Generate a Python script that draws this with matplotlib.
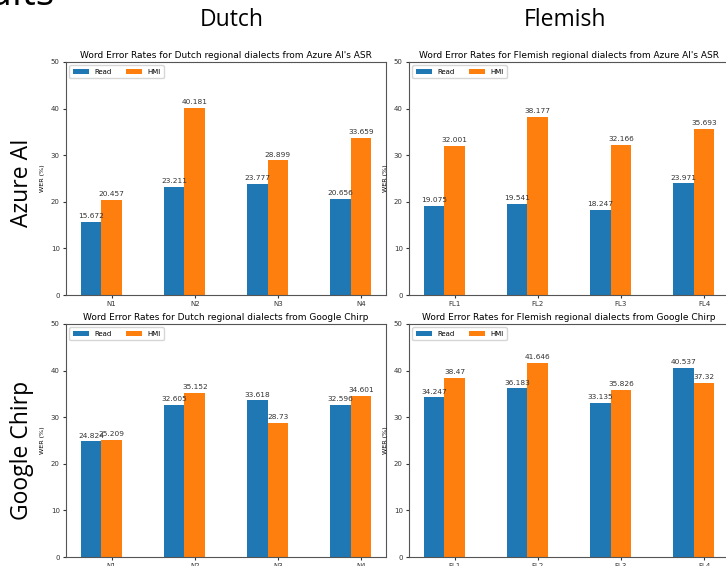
import numpy as np
import matplotlib.pyplot as plt

dutch = ["N1", "N2", "N3", "N4"]
flemish = ["FL1", "FL2", "FL3", "FL4"]

dutch_azure_read = [15.672, 23.211, 23.777, 20.656]
dutch_azure_hmi = [20.457, 40.181, 28.899, 33.659]
flemish_azure_read = [19.075, 19.541, 18.247, 23.971]
flemish_azure_hmi = [32.001, 38.177, 32.166, 35.693]
dutch_chirp_read = [24.824, 32.605, 33.618, 32.596]
dutch_chirp_hmi = [25.209, 35.152, 28.73, 34.601]
flemish_chirp_read = [34.247, 36.183, 33.135, 40.537]
flemish_chirp_hmi = [38.47, 41.646, 35.826, 37.32]

W, H = 726, 566
fig = plt.figure(figsize=(W / 100, H / 100), dpi=100)


def box(left, top, right, bottom):
    return [left / W, 1 - bottom / H, (right - left) / W, (bottom - top) / H]


def panel(rect, cats, read, hmi, title):
    ax = fig.add_axes(rect)
    x = np.arange(len(cats))
    width = 0.25
    for i, (name, vals) in enumerate([("Read", read), ("HMI", hmi)]):
        bars = ax.bar(x + width * i, vals, width, label=name)
        ax.bar_label(bars, padding=2, fontsize=5.3, color="#333333")
    ax.set_xticks(x + width, cats)
    ax.set_ylim(0, 50)
    ax.set_ylabel("WER (%)", fontsize=4.6)
    ax.set_title(title, fontsize=6.5, pad=3)
    ax.tick_params(labelsize=5, length=2.5, pad=2, colors="#333333")
    ax.legend(loc="upper left", ncols=3, fontsize=5, handlelength=2.3,
              borderpad=0.5, columnspacing=2.0)
    for s in ax.spines.values():
        s.set_color("#555555")
        s.set_linewidth(0.8)
    return ax


panel(box(66, 62, 386, 295), dutch, dutch_azure_read, dutch_azure_hmi,
      "Word Error Rates for Dutch regional dialects from Azure AI's ASR")
panel(box(409, 62, 729, 295), flemish, flemish_azure_read, flemish_azure_hmi,
      "Word Error Rates for Flemish regional dialects from Azure AI's ASR")
panel(box(66, 324, 386, 557), dutch, dutch_chirp_read, dutch_chirp_hmi,
      "Word Error Rates for Dutch regional dialects from Google Chirp")
panel(box(409, 324, 729, 557), flemish, flemish_chirp_read, flemish_chirp_hmi,
      "Word Error Rates for Flemish regional dialects from Google Chirp")

big = dict(family="Open Sans", color="black")
fig.text(55 / W, 1 - 5 / H, "Results", ha="right", va="baseline", fontsize=28, **big)
fig.text(232 / W, 1 - 20 / H, "Dutch", ha="center", va="center", fontsize=16.5, **big)
fig.text(565 / W, 1 - 20 / H, "Flemish", ha="center", va="center", fontsize=16.5, **big)
fig.text(22 / W, 1 - 183 / H, "Azure AI", ha="center", va="center", rotation=90, fontsize=16.5, **big)
fig.text(22 / W, 1 - 450 / H, "Google Chirp", ha="center", va="center", rotation=90, fontsize=16.5, **big)

fig.savefig("out.png", dpi=100)
